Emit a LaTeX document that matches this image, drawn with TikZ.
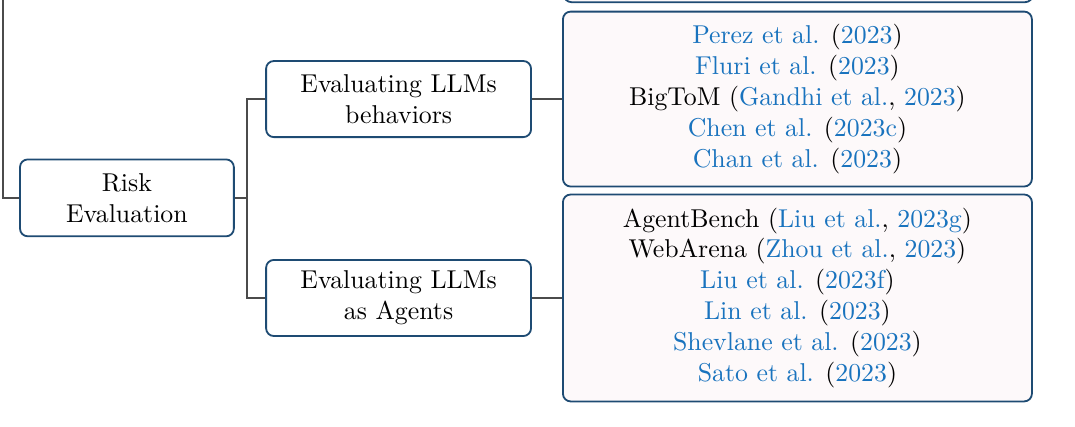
\documentclass[tikz,border=0pt]{standalone}
\usepackage{xcolor}
\usepackage{tikz}
\usetikzlibrary{positioning}
\definecolor{boxblue}{RGB}{30,75,115}
\definecolor{citeblue}{RGB}{25,115,190}
\definecolor{leafpink}{RGB}{253,249,250}
\definecolor{linegray}{RGB}{75,75,75}
\newcommand{\cit}[1]{\textcolor{citeblue}{#1}}
\newcommand{\tcite}[2]{\cit{#1} (\cit{#2})}
\newcommand{\pcite}[3]{#1 (\cit{#2}, \cit{#3})}

\begin{document}
\begin{tikzpicture}
  [
    Box/.style={rectangle, rounded corners=3pt, draw=boxblue, line width=0.7pt, fill=white, align=center, inner sep=0pt},
    Root/.style={Box, minimum width=82.9pt, minimum height=29.8pt},
    Branch/.style={Box, minimum width=102.7pt, minimum height=29.5pt},
    Leaf/.style={Box, fill=leafpink, minimum width=181.8pt},
    Link/.style={draw, line width=0.8pt, linegray}
  ]
  \useasboundingbox (0,0) rectangle (416.7pt,-165.5pt);
  % Nodes
  \node[Leaf, minimum height=40pt, anchor=south west] (prev) at (218.2pt, -1.2pt) {};
  \node[Root] (risk) at (49.2pt, -76.7pt) {Risk\\ Evaluation};
  \node[Branch] (beh) at (154.5pt, -38.4pt) {Evaluating LLMs\\ behaviors};
  \node[Branch] (agent) at (154.5pt, -115.5pt) {Evaluating LLMs\\ as Agents};
  \node[Leaf, minimum height=67.8pt] (behleaf) at (309.1pt, -38.4pt)
    {\tcite{Perez et al.}{2023}\\
     \tcite{Fluri et al.}{2023}\\
     \pcite{BigToM}{Gandhi et al.}{2023}\\
     \tcite{Chen et al.}{2023c}\\
     \tcite{Chan et al.}{2023}};
  \node[Leaf, minimum height=80.2pt] (agentleaf) at (309.1pt, -115.5pt)
    {\pcite{AgentBench}{Liu et al.}{2023g}\\
     \pcite{WebArena}{Zhou et al.}{2023}\\
     \tcite{Liu et al.}{2023f}\\
     \tcite{Lin et al.}{2023}\\
     \tcite{Shevlane et al.}{2023}\\
     \tcite{Sato et al.}{2023}};
  \coordinate (top) at (1.0pt, 0pt);
  \coordinate (spine) at (95.7pt, -76.7pt);
  % Lines
  \path [Link] (top) |- (risk.west);
  \path [Link] (risk.east) -- (spine);
  \path [Link] (spine) |- (beh.west);
  \path [Link] (spine) |- (agent.west);
  \path [Link] (beh.east) -- (behleaf.west);
  \path [Link] (agent.east) -- (agentleaf.west);
\end{tikzpicture}
\end{document}
